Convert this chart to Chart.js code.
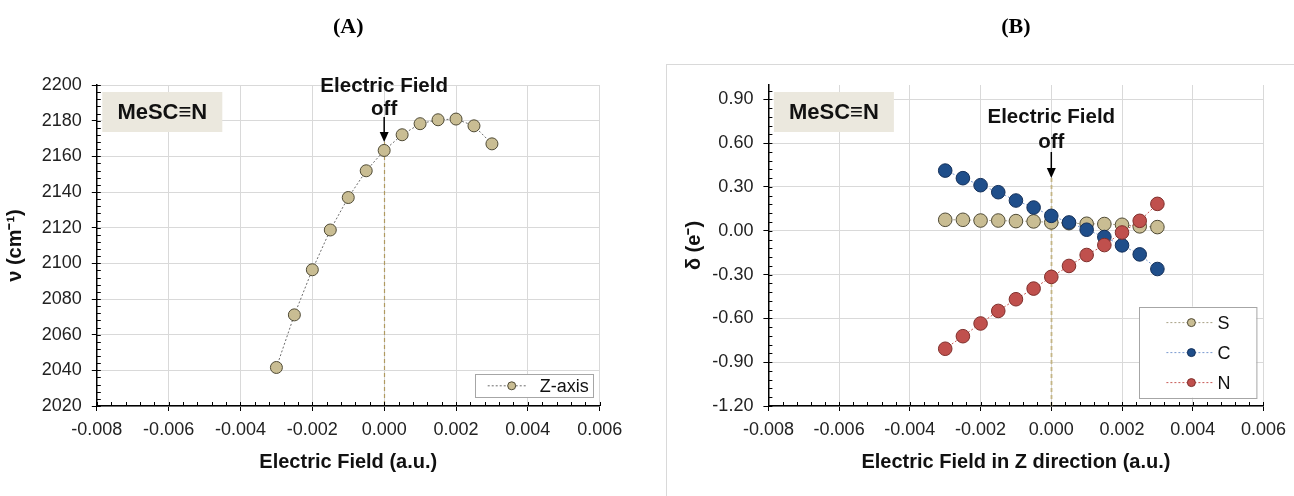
<!DOCTYPE html>
<html>
<head>
<meta charset="utf-8">
<script src="https://cdn.jsdelivr.net/npm/chart.js@4.4.1/dist/chart.umd.min.js"></script>
<style>
  body { margin: 0; background: #fff; width: 1294px; height: 496px; overflow: hidden; position: relative; }
  .panel { position: absolute; top: 0; height: 496px; }
  #boxA { left: 0; width: 660px; }
  #boxB { left: 660px; width: 634px; }
  #frameB { position: absolute; left: 666px; top: 64px; width: 700px; height: 500px; border: 1px solid #d9d9d9; }
</style>
</head>
<body>
<div id="frameB"></div>
<div class="panel" id="boxA"><canvas id="chartA"></canvas></div>
<div class="panel" id="boxB"><canvas id="chartB"></canvas></div>
<script>
// electric field values (a.u.)
const field = [-0.003, -0.0025, -0.002, -0.0015, -0.001, -0.0005, 0, 0.0005, 0.001, 0.0015, 0.002, 0.0025, 0.003];

// (A) stretching frequency along Z, cm-1
const freqZ = [2041.6, 2071.1, 2096.4, 2118.7, 2136.9, 2151.9, 2163.3, 2172.1, 2178.3, 2180.5, 2180.9, 2177.1, 2167.0];

// (B) atomic charges, e-
const chargeS = [0.075, 0.075, 0.070, 0.070, 0.066, 0.064, 0.057, 0.052, 0.048, 0.046, 0.041, 0.030, 0.025];
const chargeC = [0.412, 0.360, 0.312, 0.264, 0.207, 0.159, 0.102, 0.057, 0.007, -0.043, -0.100, -0.162, -0.262];
const chargeN = [-0.808, -0.722, -0.635, -0.549, -0.469, -0.396, -0.316, -0.241, -0.166, -0.098, -0.012, 0.068, 0.184];

// tick labels
const xTicks = [-0.008, -0.006, -0.004, -0.002, 0, 0.002, 0.004, 0.006];
const yTicksA = [2020, 2040, 2060, 2080, 2100, 2120, 2140, 2160, 2180, 2200];
const yTicksB = [-1.2, -0.9, -0.6, -0.3, 0, 0.3, 0.6, 0.9];

const FONT = "'Liberation Sans', Arial, sans-serif";
const SERIF = "'Liberation Serif', 'Times New Roman', serif";

const pts = arr => arr.map((v, i) => ({x: field[i], y: v}));

// extra drawing: minor ticks, zero line, note, compound tag, legend box
const decor = {
  id: 'decor',
  beforeDatasetsDraw(chart, args, o) {
    const {ctx, chartArea: a, scales: {x}} = chart;
    const px = Math.round(x.getPixelForValue(0)) + 0.5;
    ctx.save();
    ctx.strokeStyle = o.zeroColor;
    ctx.lineWidth = o.zeroWidth;
    ctx.setLineDash([4, 3]);
    ctx.beginPath();
    ctx.moveTo(px, a.top + o.arrow[1]);
    ctx.lineTo(px, a.bottom);
    ctx.stroke();
    ctx.restore();
  },
  afterDraw(chart, args, o) {
    const {ctx, chartArea: a, scales: {x, y}} = chart;
    ctx.save();

    // minor ticks (inside)
    ctx.strokeStyle = '#000';
    ctx.lineWidth = 1;
    ctx.beginPath();
    const nx = Math.round((x.max - x.min) / o.minorX);
    for (let i = 0; i <= nx; i++) {
      const p = Math.round(x.getPixelForValue(x.min + i * o.minorX)) + 0.5;
      ctx.moveTo(p, a.bottom);
      ctx.lineTo(p, a.bottom - 4);
    }
    const ny = Math.floor((y.max - y.min) / o.minorY + 1e-6);
    for (let i = 0; i <= ny; i++) {
      const p = Math.round(y.getPixelForValue(y.min + i * o.minorY)) + 0.5;
      ctx.moveTo(a.left, p);
      ctx.lineTo(a.left + 4, p);
    }
    ctx.stroke();

    // compound tag
    ctx.fillStyle = '#ebe8de';
    ctx.fillRect(a.left + 5.5, a.top + 7, 120, 40);
    ctx.fillStyle = '#111';
    ctx.font = 'bold 22px ' + FONT;
    ctx.textAlign = 'center';
    ctx.textBaseline = 'middle';
    ctx.fillText(o.tag, a.left + 65.5, a.top + 28);

    // "Electric Field off" note with arrow
    const px = x.getPixelForValue(0);
    ctx.font = 'bold 20.5px ' + FONT;
    ctx.fillText('Electric Field', px, a.top + o.note[0]);
    ctx.fillText('off', px, a.top + o.note[1]);
    ctx.strokeStyle = '#000';
    ctx.lineWidth = 1.5;
    ctx.beginPath();
    ctx.moveTo(px, a.top + o.arrow[0]);
    ctx.lineTo(px, a.top + o.arrow[1] - 8);
    ctx.stroke();
    ctx.fillStyle = '#000';
    ctx.beginPath();
    ctx.moveTo(px - 4.5, a.top + o.arrow[1] - 10);
    ctx.lineTo(px + 4.5, a.top + o.arrow[1] - 10);
    ctx.lineTo(px, a.top + o.arrow[1]);
    ctx.closePath();
    ctx.fill();

    // legend box
    const lg = o.legend;
    const bx = a.right - lg.right - lg.w, by = a.bottom - lg.bottom - lg.h;
    ctx.fillStyle = '#fff';
    ctx.fillRect(bx, by, lg.w, lg.h);
    ctx.strokeStyle = '#a6a6a6';
    ctx.lineWidth = 1;
    ctx.strokeRect(Math.round(bx) + 0.5, Math.round(by) + 0.5, lg.w, lg.h);
    ctx.font = '18px ' + FONT;
    ctx.textAlign = 'left';
    chart.data.datasets.forEach((ds, i) => {
      const cy = by + lg.rowTop + i * lg.rowGap;
      ctx.setLineDash(ds.borderDash);
      ctx.strokeStyle = ds.borderColor;
      ctx.beginPath();
      ctx.moveTo(bx + lg.line[0], cy);
      ctx.lineTo(bx + lg.line[1], cy);
      ctx.stroke();
      ctx.setLineDash([]);
      ctx.beginPath();
      ctx.arc(bx + lg.dot, cy, 4, 0, Math.PI * 2);
      ctx.fillStyle = ds.pointBackgroundColor;
      ctx.fill();
      ctx.strokeStyle = ds.pointBorderColor;
      ctx.stroke();
      ctx.fillStyle = '#111';
      ctx.fillText(ds.label, bx + lg.text, cy + 1);
    });
    ctx.restore();
  }
};

function makeOptions(cfg) {
  return {
    responsive: true,
    maintainAspectRatio: false,
    animation: false,
    layout: {padding: {left: 0, right: cfg.padRight, top: 0, bottom: 0}},
    plugins: {
      legend: {display: false},
      tooltip: {enabled: false},
      title: {
        display: true, text: cfg.title, fullSize: false, color: '#000',
        font: {family: SERIF, size: 22, weight: 'bold'},
        padding: {top: 14, bottom: 44.6}
      },
      decor: cfg.decor
    },
    scales: {
      x: {
        type: 'linear', min: -0.008, max: 0.006,
        afterBuildTicks: s => { s.ticks = xTicks.map(v => ({value: v})); },
        afterFit: s => { s.height = 90; },
        ticks: {callback: v => v.toFixed(3), font: {family: FONT, size: 18}, color: '#222', padding: 8, maxRotation: 0, autoSkip: false},
        grid: {color: '#d9d9d9', tickColor: '#000', tickLength: 5, lineWidth: 1},
        border: {color: '#000', width: 1.5},
        title: {display: true, text: cfg.xTitle, color: '#111', font: {family: FONT, size: 20, weight: 'bold'}, padding: {top: 0, bottom: 22}}
      },
      y: {
        type: 'linear', min: cfg.yMin, max: cfg.yMax,
        afterBuildTicks: s => { s.ticks = cfg.yTicks.map(v => ({value: v})); },
        afterFit: s => { s.width = cfg.yWidth; },
        ticks: {callback: cfg.yFmt, font: {family: FONT, size: 18}, color: '#222', padding: 10, autoSkip: false},
        grid: {color: '#d9d9d9', tickColor: '#000', tickLength: 5, lineWidth: 1},
        border: {color: '#000', width: 1.5},
        title: {display: true, text: cfg.yTitle, color: '#111', font: {family: FONT, size: 20, weight: 'bold'}, padding: {top: cfg.yTitlePad, bottom: 0}}
      }
    }
  };
}

function series(label, data, fill, edge, line, r, order) {
  return {
    label: label, data: pts(data), showLine: true, order: order,
    borderColor: line, borderWidth: 1, borderDash: [2, 2],
    pointRadius: r, pointHoverRadius: r, pointBorderWidth: 1,
    pointBackgroundColor: fill, pointBorderColor: edge
  };
}

new Chart(document.getElementById('chartA'), {
  type: 'scatter',
  data: {datasets: [series('Z-axis', freqZ, '#c9bd93', '#4f4a35', '#6b6b6b', 6, 0)]},
  options: makeOptions({
    title: '(A)', padRight: 60.3, yMin: 2020, yMax: 2200, yTicks: yTicksA, yWidth: 96.8,
    yFmt: v => String(v), yTitle: 'ν (cm⁻¹)', yTitlePad: 3, xTitle: 'Electric Field (a.u.)',
    decor: {
      tag: 'MeSC≡N', minorX: 0.0004, minorY: 4,
      note: [1, 24], arrow: [32, 57], zeroColor: '#b09a60', zeroWidth: 1.2,
      legend: {w: 118, h: 23, right: 7, bottom: 8.7, rowTop: 11.5, rowGap: 0, line: [13, 53], dot: 37, text: 65}
    }
  }),
  plugins: [decor]
});

new Chart(document.getElementById('chartB'), {
  type: 'scatter',
  data: {datasets: [
    series('S', chargeS, '#c9bd93', '#4f4a35', '#a8a185', 6.8, 3),
    series('C', chargeC, '#1f4e8a', '#14305a', '#7a9ad0', 6.8, 2),
    series('N', chargeN, '#c0504d', '#7f2f2c', '#c85a56', 6.8, 1)
  ]},
  options: makeOptions({
    title: '(B)', padRight: 26.2, yMin: -1.2, yMax: 0.998, yTicks: yTicksB, yWidth: 108.4,
    yFmt: v => v.toFixed(2), yTitle: 'δ (e⁻)', yTitlePad: 22, xTitle: 'Electric Field in Z direction (a.u.)',
    decor: {
      tag: 'MeSC≡N', minorX: 0.0004, minorY: 0.06,
      note: [32, 57], arrow: [67, 93], zeroColor: '#c4b585', zeroWidth: 1.8,
      legend: {w: 117.4, h: 91, right: 7.1, bottom: 8.4, rowTop: 16, rowGap: 30, line: [27.4, 75], dot: 52.4, text: 78.4}
    }
  }),
  plugins: [decor]
});
</script>
</body>
</html>
